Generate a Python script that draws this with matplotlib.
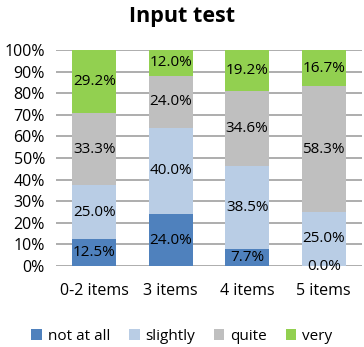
import numpy as np
import matplotlib.pyplot as plt

plt.rcParams['font.family'] = ['Open Sans', 'DejaVu Sans']

categories = ['0-2 items', '3 items', '4 items', '5 items']
series_names = ['not at all', 'slightly', 'quite', 'very']
not_at_all = [12.5, 24.0, 7.7, 0.0]
slightly = [25.0, 40.0, 38.5, 25.0]
quite = [33.3, 24.0, 34.6, 58.3]
very = [29.2, 12.0, 19.2, 16.7]
colors = ['#4F81BD', '#B9CDE5', '#BFBFBF', '#92D050']

fig = plt.figure(figsize=(3.64, 3.47), dpi=100)
ax = fig.add_axes([56 / 364, 81 / 347, 306 / 364, 216 / 347])

x = np.arange(len(categories))
bottom = np.zeros(len(categories))
for name, vals, c in zip(series_names, [not_at_all, slightly, quite, very], colors):
    vals = np.array(vals)
    ax.bar(x, vals, 0.57, bottom=bottom, color=c, label=name, zorder=2)
    for xi, b, v in zip(x, bottom, vals):
        ax.text(xi, b + v / 2, f'{v:.1f}%', ha='center', va='center',
                fontsize=11, zorder=3)
    bottom += vals

ax.set_xlim(-0.5, 3.5)
ax.set_ylim(0, 100)
ax.set_yticks(np.arange(0, 101, 10))
ax.set_yticklabels([f'{t}%' for t in range(0, 101, 10)], fontsize=11.5)
ax.set_xticks(x)
ax.set_xticklabels(categories, fontsize=11.5)
ax.tick_params(length=0, axis='both')
ax.tick_params(axis='x', pad=12)
ax.tick_params(axis='y', pad=8)
ax.grid(axis='y', color='#A0A0A0', linewidth=1.2, zorder=0)
for s in ax.spines.values():
    s.set_visible(False)

fig.text(0.5, 0.952, 'Input test', ha='center', va='center',
         fontsize=15.5, fontweight='bold')
fig.legend(loc='center', bbox_to_anchor=(0.5, 0.03), ncol=4, frameon=False,
           fontsize=11, handlelength=0.7, handleheight=0.7,
           handletextpad=0.4, columnspacing=1.2)

fig.savefig('out.png', dpi=100)
